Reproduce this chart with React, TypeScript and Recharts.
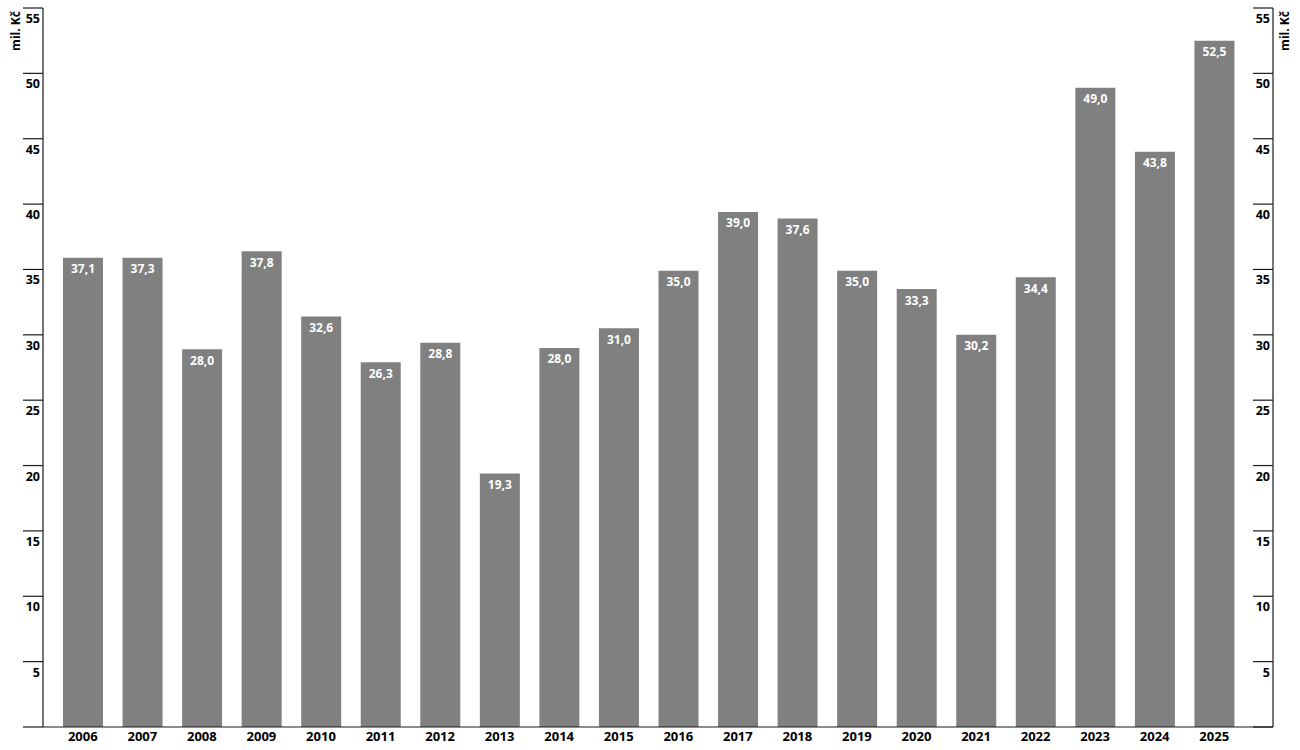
import React from 'react';
import { BarChart, Bar, XAxis, YAxis, LabelList } from 'recharts';

// years on the x axis
const years = [
  '2006', '2007', '2008', '2009', '2010', '2011', '2012', '2013', '2014', '2015',
  '2016', '2017', '2018', '2019', '2020', '2021', '2022', '2023', '2024', '2025',
];

// bar heights as drawn in the picture (mil. Kč)
const barHeights = [
  35.9, 35.9, 28.9, 36.4, 31.4, 27.9, 29.4, 19.4, 29.0, 30.5,
  34.9, 39.4, 38.9, 34.9, 33.5, 30.0, 34.4, 48.9, 44.0, 52.5,
];

// printed value labels
const valueLabels = [
  '37,1', '37,3', '28,0', '37,8', '32,6', '26,3', '28,8', '19,3', '28,0', '31,0',
  '35,0', '39,0', '37,6', '35,0', '33,3', '30,2', '34,4', '49,0', '43,8', '52,5',
];

const yTicks = [0, 5, 10, 15, 20, 25, 30, 35, 40, 45, 50, 55];

const data = years.map((year, i) => ({
  year,
  height: barHeights[i],
  label: valueLabels[i],
}));

const FONT = '"Open Sans", sans-serif';

const YTick = (props: any) => {
  const { x, y, payload } = props;
  return (
    <g>
      <line x1={x - 20} x2={x} y1={y} y2={y} stroke='#1a1a1a' strokeWidth={1.2} />
      {payload.value !== 0 && (
        <text
          x={x - 3}
          y={y + 15}
          textAnchor='end'
          fontSize={12.5}
          fontWeight={700}
          fontFamily={FONT}
          fill='#000'
        >
          {payload.value}
        </text>
      )}
    </g>
  );
};

const UnitLabel = (cx: number) => (props: any) => {
  const { viewBox } = props;
  const y = viewBox.y + 23;
  return (
    <text
      x={cx}
      y={y}
      transform={`rotate(-90, ${cx}, ${y})`}
      textAnchor='middle'
      dominantBaseline='central'
      fontSize={12}
      fontWeight={700}
      fontFamily={FONT}
      fill='#000'
    >
      mil. Kč
    </text>
  );
};

export default function App() {
  return (
    <div style={{ position: 'absolute', left: 0, top: 0, width: 1300, height: 750, background: '#fff' }}>
      <BarChart
        width={1300}
        height={750}
        data={data}
        margin={{ top: 8, right: 0, bottom: 3, left: 0 }}
        style={{ fontFamily: FONT }}
      >
        <XAxis
          dataKey='year'
          xAxisId={0}
          height={20}
          padding={{ left: 10, right: 29 }}
          tickLine={false}
          tickSize={0}
          tickMargin={5}
          axisLine={{ stroke: '#1a1a1a', strokeWidth: 1.2 }}
          tick={{ fontSize: 13, fontWeight: 700, fill: '#000', fontFamily: FONT }}
          interval={0}
        />
        <YAxis
          yAxisId='left'
          orientation='left'
          width={43}
          domain={[0, 55]}
          allowDataOverflow
          ticks={yTicks}
          interval={0}
          tickLine={false}
          tickSize={0}
          tickMargin={0}
          axisLine={{ stroke: '#1a1a1a', strokeWidth: 1.2 }}
          tick={<YTick />}
          label={{ content: UnitLabel(15) }}
        />
        <YAxis
          yAxisId='right'
          orientation='right'
          type='number'
          width={27}
          domain={[0, 55]}
          allowDataOverflow
          ticks={yTicks}
          interval={0}
          tickLine={false}
          tickSize={0}
          tickMargin={0}
          axisLine={{ stroke: '#1a1a1a', strokeWidth: 1.2 }}
          tick={<YTick />}
          label={{ content: UnitLabel(1284) }}
        />
        <Bar
          dataKey='height'
          yAxisId='left'
          fill='#808080'
          barSize={40}
          isAnimationActive={false}
        >
          <LabelList
            dataKey='label'
            position='insideTop'
            offset={7}
            fill='#fff'
            fontSize={12}
            fontWeight={700}
            fontFamily={FONT}
          />
        </Bar>
      </BarChart>
    </div>
  );
}
